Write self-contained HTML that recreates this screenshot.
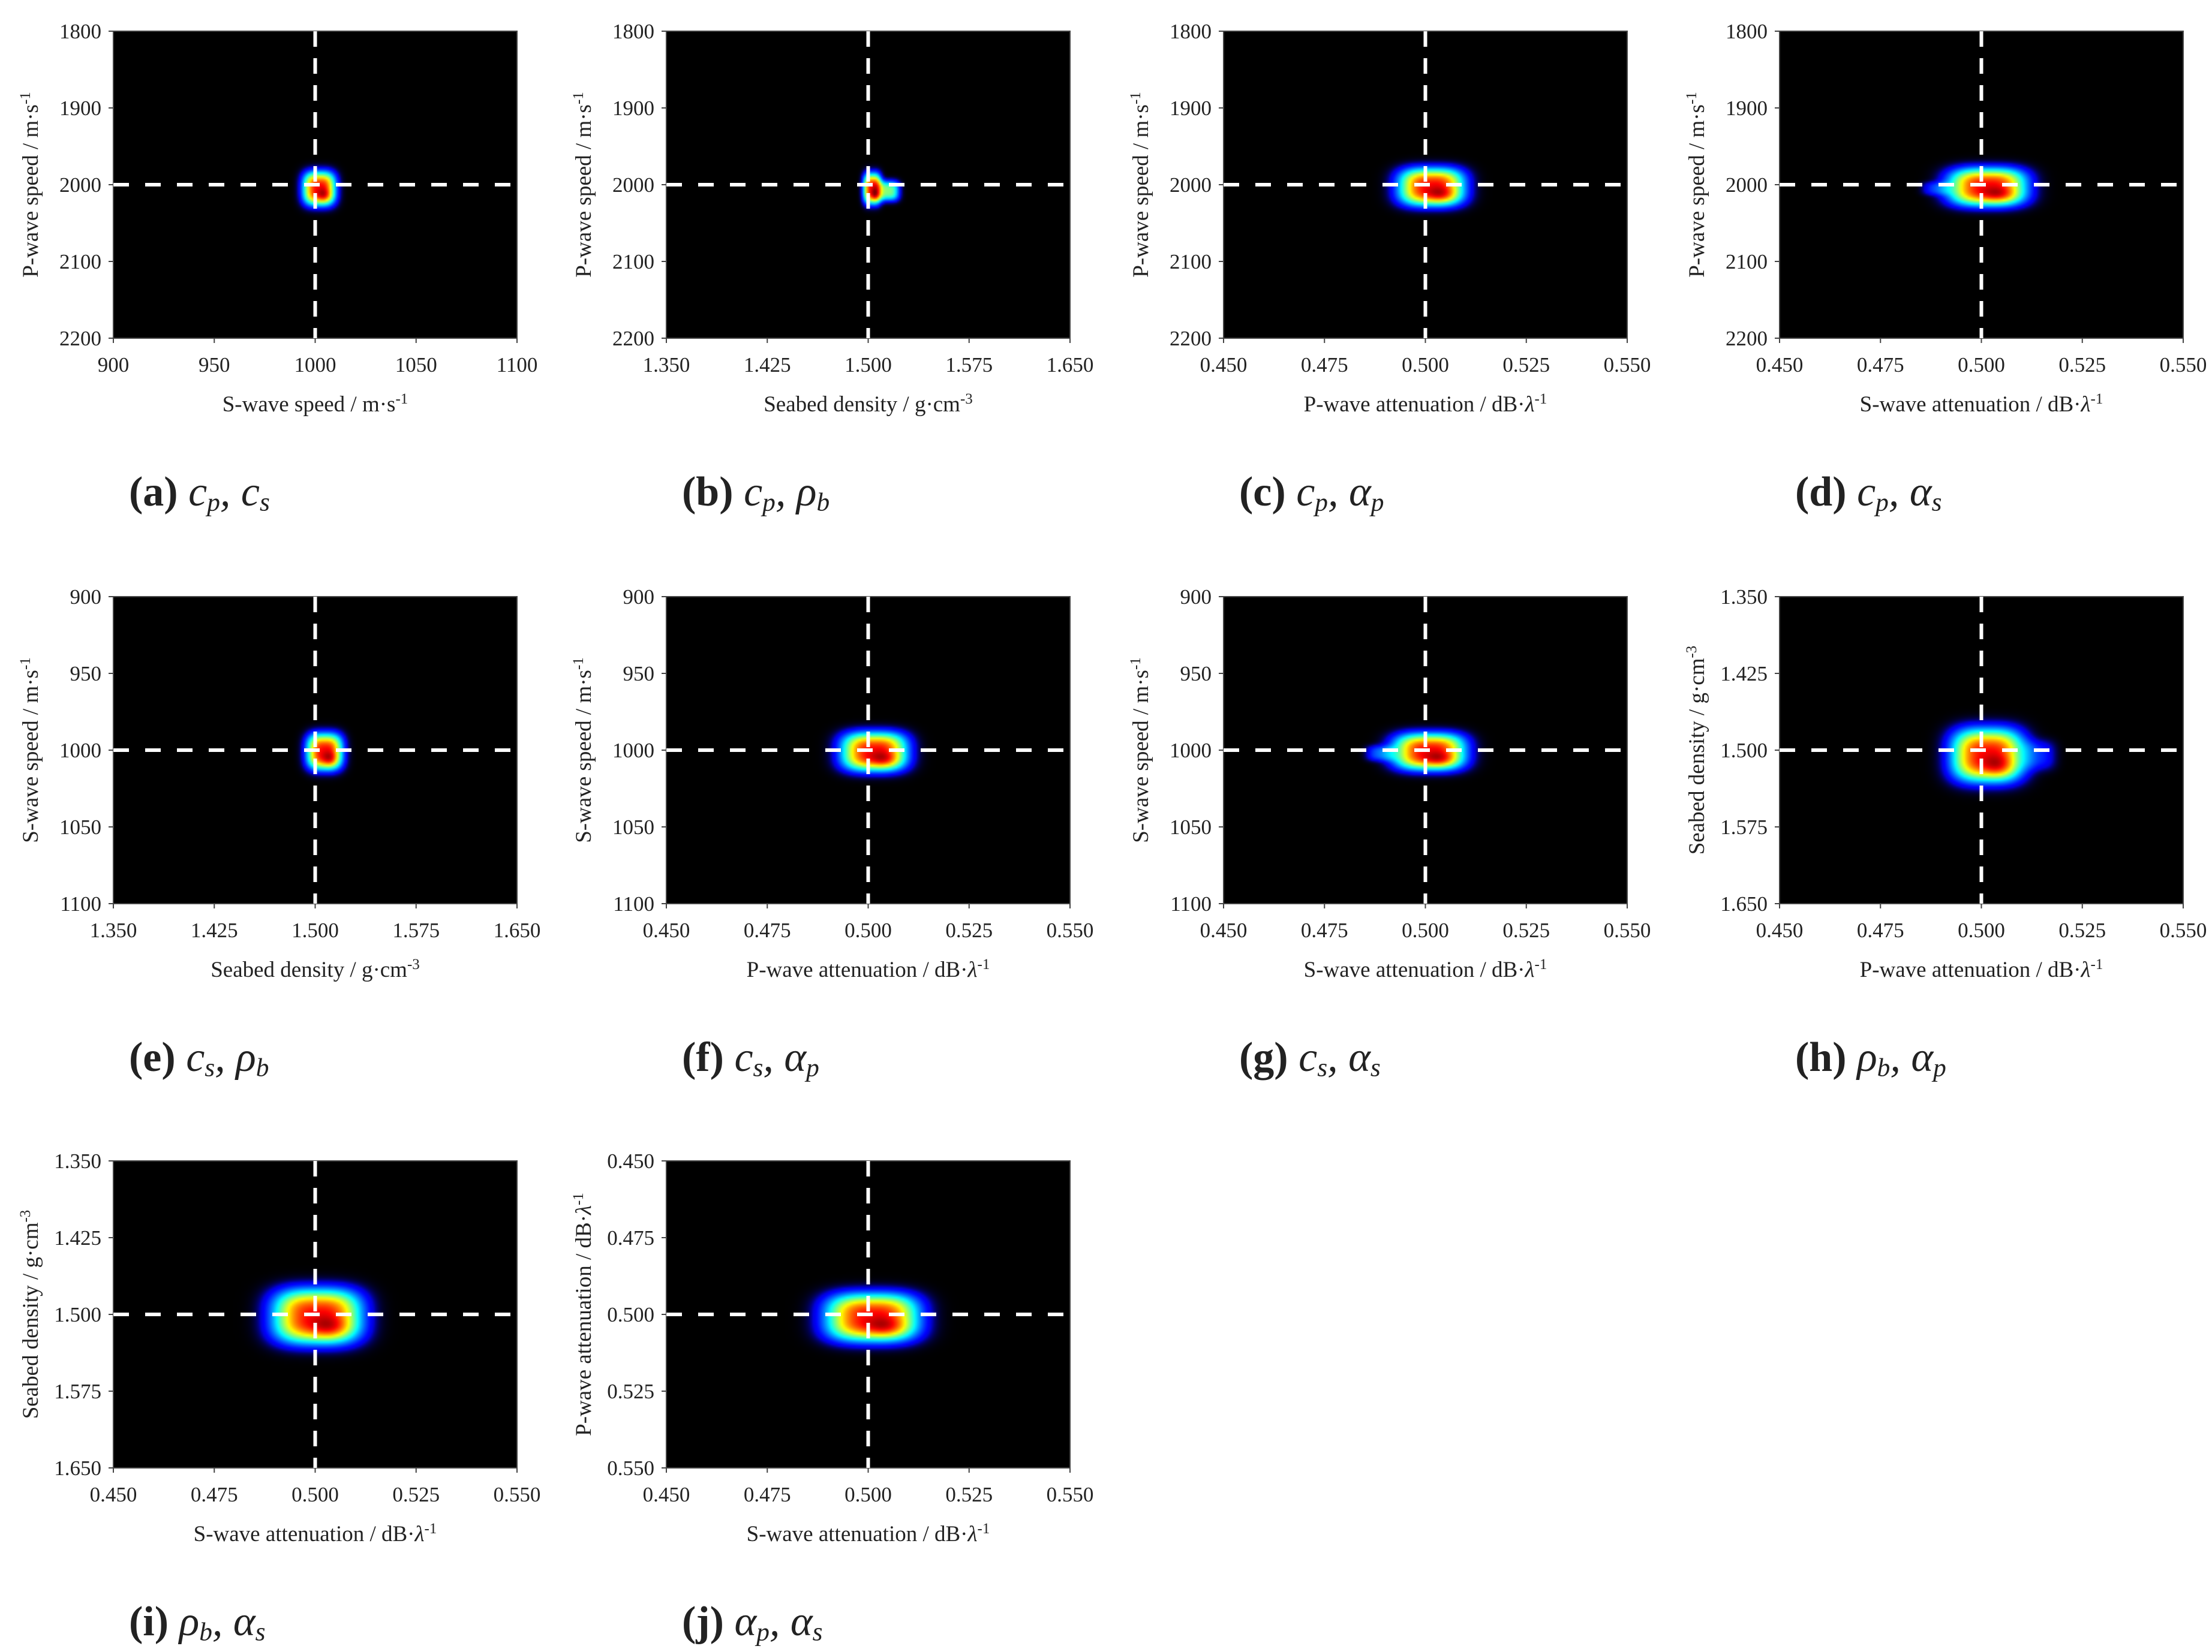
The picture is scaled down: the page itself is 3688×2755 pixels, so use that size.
<!DOCTYPE html>
<html><head><meta charset="utf-8">
<style>
html,body{margin:0;padding:0;background:#fff;}
body{width:3688px;height:2755px;position:relative;overflow:hidden;font-family:"Liberation Serif",serif;color:#222;}
canvas{position:absolute;image-rendering:auto;}
svg{position:absolute;left:0;top:0;overflow:visible;}
.cap{position:absolute;font-family:"Liberation Serif",serif;font-size:70px;white-space:nowrap;line-height:1;}
.cap b{font-weight:bold;}
.cap i{font-family:"Liberation Serif",serif;}
.cap i sub{font-size:0.62em;vertical-align:-0.2em;}
</style></head>
<body>
<div id="root"></div>
<script>
// ---- data ----
const panelIds = ['a','b','c','d','e','f','g','h','i','j'];
const xMin = [900,1.35,0.45,0.45,1.35,0.45,0.45,0.45,0.45,0.45];
const xMax = [1100,1.65,0.55,0.55,1.65,0.55,0.55,0.55,0.55,0.55];
const yMin = [1800,1800,1800,1800,900,900,900,1.35,1.35,0.45];
const yMax = [2200,2200,2200,2200,1100,1100,1100,1.65,1.65,0.55];
const xTickLabels = [
 ['900','950','1000','1050','1100'],
 ['1.350','1.425','1.500','1.575','1.650'],
 ['0.450','0.475','0.500','0.525','0.550'],
 ['0.450','0.475','0.500','0.525','0.550'],
 ['1.350','1.425','1.500','1.575','1.650'],
 ['0.450','0.475','0.500','0.525','0.550'],
 ['0.450','0.475','0.500','0.525','0.550'],
 ['0.450','0.475','0.500','0.525','0.550'],
 ['0.450','0.475','0.500','0.525','0.550'],
 ['0.450','0.475','0.500','0.525','0.550']];
const yTickLabels = [
 ['1800','1900','2000','2100','2200'],['1800','1900','2000','2100','2200'],
 ['1800','1900','2000','2100','2200'],['1800','1900','2000','2100','2200'],
 ['900','950','1000','1050','1100'],['900','950','1000','1050','1100'],['900','950','1000','1050','1100'],
 ['1.350','1.425','1.500','1.575','1.650'],['1.350','1.425','1.500','1.575','1.650'],
 ['0.450','0.475','0.500','0.525','0.550']];
const xTrue = [1000,1.5,0.5,0.5,1.5,0.5,0.5,0.5,0.5,0.5];
const yTrue = [2000,2000,2000,2000,1000,1000,1000,1.5,1.5,0.5];
// main blob
const blobCx = [1002,1.503,0.5015,0.5015,1.507,0.5015,0.501,0.5015,0.5005,0.501];
const blobCy = [2005,2005,2003,2003,1001,1001,1001,1.505,1.502,0.501];
const blobHx = [11,0.009,0.011,0.013,0.018,0.011,0.012,0.012,0.0148,0.0155];
const blobHy = [30,27,33,33,16,17,16,0.035,0.036,0.0105];
// secondary tail blob
const tailCx = [0,1.515,0,0.489,0,0,0.489,0.514,0,0];
const tailCy = [0,2008,0,2005,0,0,1002,1.505,0,0];
const tailHx = [1,0.011,1,0.005,1,1,0.005,0.006,1,1];
const tailHy = [1,18,1,12,1,1,7,0.02,1,1];
const tailAmp = [0,0.5,0,0.15,0,0,0.2,0.15,0,0];
const SUP1 = '<tspan baseline-shift="super" font-size="25">-1</tspan>';
const SUP3 = '<tspan baseline-shift="super" font-size="25">-3</tspan>';
const LAM = '<tspan font-style="italic">λ</tspan>';
const xLabels = ['S-wave speed / m·s'+SUP1,'Seabed density / g·cm'+SUP3,
 'P-wave attenuation / dB·'+LAM+SUP1,'S-wave attenuation / dB·'+LAM+SUP1,
 'Seabed density / g·cm'+SUP3,'P-wave attenuation / dB·'+LAM+SUP1,
 'S-wave attenuation / dB·'+LAM+SUP1,'P-wave attenuation / dB·'+LAM+SUP1,
 'S-wave attenuation / dB·'+LAM+SUP1,'S-wave attenuation / dB·'+LAM+SUP1];
const yLabels = ['P-wave speed / m·s'+SUP1,'P-wave speed / m·s'+SUP1,'P-wave speed / m·s'+SUP1,'P-wave speed / m·s'+SUP1,
 'S-wave speed / m·s'+SUP1,'S-wave speed / m·s'+SUP1,'S-wave speed / m·s'+SUP1,
 'Seabed density / g·cm'+SUP3,'Seabed density / g·cm'+SUP3,'P-wave attenuation / dB·'+LAM+SUP1];
const captions = ['<i>c<sub>p</sub>, c<sub>s</sub></i>','<i>c<sub>p</sub>, ρ<sub>b</sub></i>','<i>c<sub>p</sub>, α<sub>p</sub></i>','<i>c<sub>p</sub>, α<sub>s</sub></i>',
 '<i>c<sub>s</sub>, ρ<sub>b</sub></i>','<i>c<sub>s</sub>, α<sub>p</sub></i>','<i>c<sub>s</sub>, α<sub>s</sub></i>','<i>ρ<sub>b</sub>, α<sub>p</sub></i>',
 '<i>ρ<sub>b</sub>, α<sub>s</sub></i>','<i>α<sub>p</sub>, α<sub>s</sub></i>'];

// ---- layout ----
const colLeft = [189,1111,2040,2967];
const rowTop = [52,995,1936];
const PW = 673, PH = 512;
const root = document.getElementById('root');
const NS = 'http://www.w3.org/2000/svg';

function jet(v){
  const c = t => Math.max(0, Math.min(1, t));
  return [c(1.5-Math.abs(4*v-3)), c(1.5-Math.abs(4*v-2)), c(1.5-Math.abs(4*v-1))];
}

panelIds.forEach((id, k) => {
  const L = colLeft[k%4], T = rowTop[Math.floor(k/4)];
  const sx = v => L + (v - xMin[k])/(xMax[k]-xMin[k])*PW;
  const sy = v => T + (v - yMin[k])/(yMax[k]-yMin[k])*PH;

  const GW = 224, GH = 170;
  const cv = document.createElement('canvas');
  
  
  cv.width = GW; cv.height = GH;
  cv.style.left = L + 'px'; cv.style.top = T + 'px';
  cv.style.width = PW + 'px'; cv.style.height = PH + 'px';
  const ctx = cv.getContext('2d');
  const img = ctx.createImageData(GW, GH);
  const s1x = blobHx[k]/1.39, s1y = blobHy[k]/1.39;
  const s2x = tailHx[k]/1.39, s2y = tailHy[k]/1.39;
  const cxk = blobCx[k] + blobHx[k]*0.2, cyk = blobCy[k] + blobHy[k]*0.3;
  for (let j=0;j<GH;j++) for (let i=0;i<GW;i++){
    const x = xMin[k] + (i+0.5)/GW*(xMax[k]-xMin[k]);
    const y = yMin[k] + (j+0.5)/GH*(yMax[k]-yMin[k]);
    let dx=Math.abs((x-blobCx[k])/s1x), dy=Math.abs((y-blobCy[k])/s1y);
    let v = 0.86*Math.exp(-(dx**3+dy**3));
    dx=(x-cxk)/(s1x*0.45); dy=(y-cyk)/(s1y*0.45);
    v += 0.14*Math.exp(-(dx*dx+dy*dy));
    dx=Math.abs((x-tailCx[k])/s2x); dy=Math.abs((y-tailCy[k])/s2y);
    v += tailAmp[k]*Math.exp(-(dx**3+dy**3));
    v = Math.min(1, v);
    const f = Math.min(1, v/0.09);
    const c = jet(v);
    const p = (j*GW+i)*4;
    img.data[p]=c[0]*f*255; img.data[p+1]=c[1]*f*255; img.data[p+2]=c[2]*f*255; img.data[p+3]=255;
  }
  ctx.putImageData(img,0,0);
  root.appendChild(cv);

  const svg = document.createElementNS(NS,'svg');
  svg.setAttribute('width','3688'); svg.setAttribute('height','2755');
  
  
  svg.style.pointerEvents='none';
  let h = '';
  h += `<rect x="${L}" y="${T}" width="${PW}" height="${PH}" fill="none" stroke="#444" stroke-width="2"/>`;
  h += `<line x1="${sx(xTrue[k])}" y1="${T}" x2="${sx(xTrue[k])}" y2="${T+PH}" stroke="#fff" stroke-width="6" stroke-dasharray="26 19"/>`;
  h += `<line x1="${L}" y1="${sy(yTrue[k])}" x2="${L+PW}" y2="${sy(yTrue[k])}" stroke="#fff" stroke-width="6" stroke-dasharray="26 27"/>`;
  xTickLabels[k].forEach((t,n)=>{
    const v = xMin[k] + n*(xMax[k]-xMin[k])/4, X = sx(v);
    h += `<line x1="${X}" y1="${T+PH}" x2="${X}" y2="${T+PH+8}" stroke="#444" stroke-width="2"/>`;
    h += `<text x="${X}" y="${T+PH+56}" font-size="35" text-anchor="middle" fill="#222">${t}</text>`;
  });
  yTickLabels[k].forEach((t,n)=>{
    const v = yMin[k] + n*(yMax[k]-yMin[k])/4, Y = sy(v);
    h += `<line x1="${L-8}" y1="${Y}" x2="${L}" y2="${Y}" stroke="#444" stroke-width="2"/>`;
    h += `<text x="${L-20}" y="${Y+12}" font-size="35" text-anchor="end" fill="#222">${t}</text>`;
  });
  h += `<text x="${L+PW/2}" y="${T+PH+122}" font-size="37" text-anchor="middle" fill="#222">${xLabels[k]}</text>`;
  h += `<text transform="translate(${L-126},${T+PH/2}) rotate(-90)" font-size="37" text-anchor="middle" fill="#222">${yLabels[k]}</text>`;
  svg.innerHTML = h;
  root.appendChild(svg);

  const cap = document.createElement('div');
  cap.className = 'cap';
  
  
  cap.style.left = (L + 26) + 'px';
  cap.style.top = (T + PH + 222) + 'px';
  cap.innerHTML = `<b>(${id})</b> ${captions[k]}`;
  root.appendChild(cap);
});
</script>
</body></html>
